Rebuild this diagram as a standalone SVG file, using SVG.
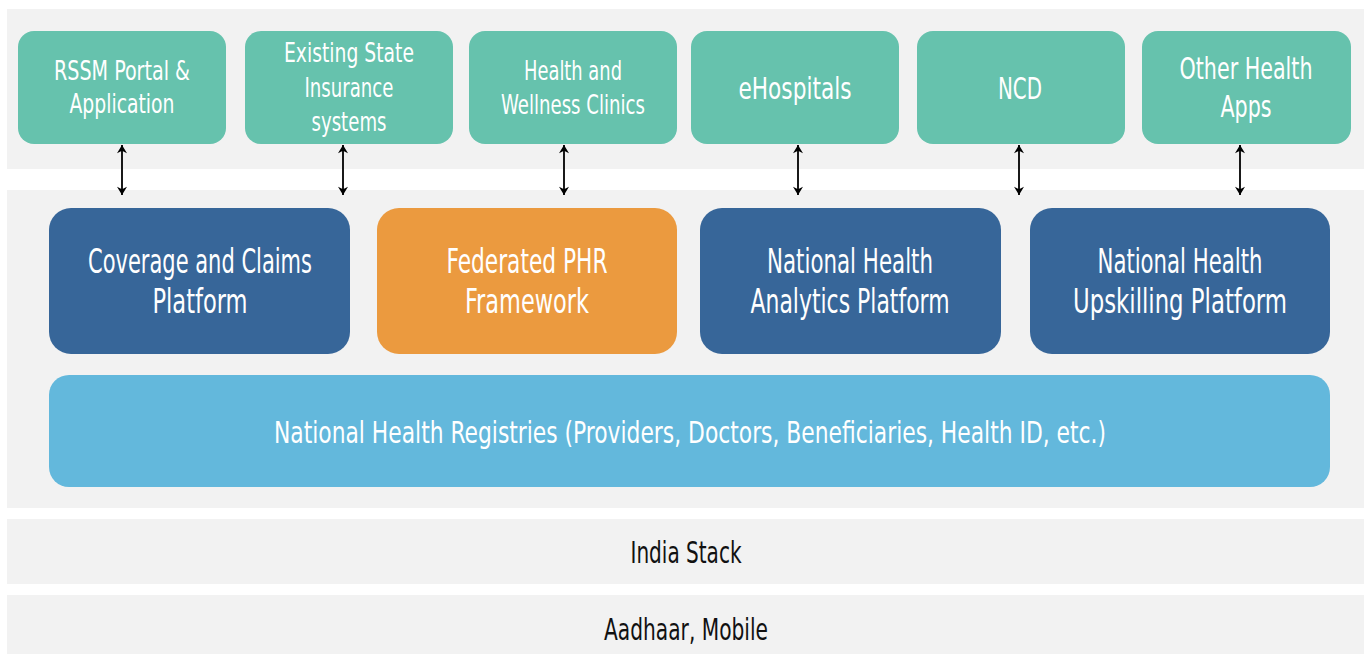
<svg xmlns="http://www.w3.org/2000/svg" width="1368" height="654" viewBox="0 0 1368 654">
<defs>
<marker id="ah" viewBox="0 0 10 12" refX="10" refY="6" markerWidth="11" markerHeight="10" orient="auto-start-reverse" markerUnits="userSpaceOnUse">
<path d="M0,0 L10,6 L0,12 L3,6 Z" fill="#000"/>
</marker>
<style>
.band{fill:#f2f2f2}
.app{fill:#66c2ad}
.blue{fill:#376699}
.orange{fill:#eb9a3f}
.light{fill:#63b8dc}
text{font-family:"Liberation Sans Narrow","DejaVu Sans Condensed","Liberation Sans",sans-serif;font-stretch:condensed;text-anchor:middle}
.w{fill:#fff}
.s{font-size:27px}
.m{font-size:31px}
.l{font-size:34px}
.r{font-size:31px}
.b{fill:#111;font-size:31px}
.conn line{stroke:#000;stroke-width:1.8}
</style>
</defs>
<rect class="band" x="7" y="9" width="1357" height="160"/>
<rect class="band" x="7" y="190" width="1357" height="318"/>
<g id="india-stack">
<rect class="band" x="7" y="519" width="1357" height="65"/>
<text class="b" x="686" y="563" textLength="111" lengthAdjust="spacingAndGlyphs">India Stack</text>
</g>
<g id="aadhaar">
<rect class="band" x="7" y="595" width="1357" height="59"/>
<text class="b" x="686" y="640" textLength="164" lengthAdjust="spacingAndGlyphs" style="font-size:30px">Aadhaar, Mobile</text>
</g>
<g id="rssm">
<rect class="app" x="18" y="31" width="208" height="113" rx="16"/>
<text class="w s" x="122" y="80" textLength="136" lengthAdjust="spacingAndGlyphs">RSSM Portal &amp;</text>
<text class="w s" x="122" y="113" textLength="105" lengthAdjust="spacingAndGlyphs">Application</text>
</g>
<g id="state-insurance">
<rect class="app" x="245" y="31" width="208" height="113" rx="16"/>
<text class="w s" x="349" y="62" textLength="130" lengthAdjust="spacingAndGlyphs">Existing State</text>
<text class="w s" x="349" y="97" textLength="89" lengthAdjust="spacingAndGlyphs">Insurance</text>
<text class="w s" x="349" y="131" textLength="75" lengthAdjust="spacingAndGlyphs">systems</text>
</g>
<g id="hwc">
<rect class="app" x="469" y="31" width="208" height="113" rx="16"/>
<text class="w s" x="573" y="80" textLength="98" lengthAdjust="spacingAndGlyphs">Health and</text>
<text class="w s" x="573" y="114" textLength="144" lengthAdjust="spacingAndGlyphs">Wellness Clinics</text>
</g>
<g id="ehospitals">
<rect class="app" x="691" y="31" width="208" height="113" rx="16"/>
<text class="w m" x="795" y="99" textLength="113" lengthAdjust="spacingAndGlyphs">eHospitals</text>
</g>
<g id="ncd">
<rect class="app" x="917" y="31" width="208" height="113" rx="16"/>
<text class="w m" x="1020" y="99" textLength="44" lengthAdjust="spacingAndGlyphs">NCD</text>
</g>
<g id="other-apps">
<rect class="app" x="1142" y="31" width="209" height="113" rx="16"/>
<text class="w m" x="1246" y="79" textLength="133" lengthAdjust="spacingAndGlyphs" style="font-size:30px">Other Health</text>
<text class="w m" x="1246" y="117" textLength="51" lengthAdjust="spacingAndGlyphs" style="font-size:30px">Apps</text>
</g>
<g id="coverage">
<rect class="blue" x="49" y="208" width="301" height="146" rx="22"/>
<text class="w l" x="200" y="273" textLength="224" lengthAdjust="spacingAndGlyphs">Coverage and Claims</text>
<text class="w l" x="200" y="313" textLength="95" lengthAdjust="spacingAndGlyphs">Platform</text>
</g>
<g id="phr">
<rect class="orange" x="377" y="208" width="300" height="146" rx="22"/>
<text class="w l" x="527" y="273" textLength="161" lengthAdjust="spacingAndGlyphs">Federated PHR</text>
<text class="w l" x="527" y="313" textLength="124" lengthAdjust="spacingAndGlyphs">Framework</text>
</g>
<g id="analytics">
<rect class="blue" x="700" y="208" width="301" height="146" rx="22"/>
<text class="w l" x="850" y="273" textLength="166" lengthAdjust="spacingAndGlyphs">National Health</text>
<text class="w l" x="850" y="313" textLength="199" lengthAdjust="spacingAndGlyphs">Analytics Platform</text>
</g>
<g id="upskilling">
<rect class="blue" x="1030" y="208" width="300" height="146" rx="22"/>
<text class="w l" x="1180" y="273" textLength="165" lengthAdjust="spacingAndGlyphs">National Health</text>
<text class="w l" x="1180" y="313" textLength="214" lengthAdjust="spacingAndGlyphs">Upskilling Platform</text>
</g>
<g id="registries">
<rect class="light" x="49" y="375" width="1281" height="112" rx="20"/>
<text class="w r" x="690" y="443" textLength="832" lengthAdjust="spacingAndGlyphs">National Health Registries (Providers, Doctors, Beneficiaries, Health ID, etc.)</text>
</g>
<g class="conn" id="connectors">
<line x1="122" y1="145" x2="122" y2="195" marker-start="url(#ah)" marker-end="url(#ah)"/>
<line x1="343" y1="145" x2="343" y2="195" marker-start="url(#ah)" marker-end="url(#ah)"/>
<line x1="564" y1="145" x2="564" y2="195" marker-start="url(#ah)" marker-end="url(#ah)"/>
<line x1="798" y1="145" x2="798" y2="195" marker-start="url(#ah)" marker-end="url(#ah)"/>
<line x1="1019" y1="145" x2="1019" y2="195" marker-start="url(#ah)" marker-end="url(#ah)"/>
<line x1="1240" y1="145" x2="1240" y2="195" marker-start="url(#ah)" marker-end="url(#ah)"/>
</g>
</svg>
